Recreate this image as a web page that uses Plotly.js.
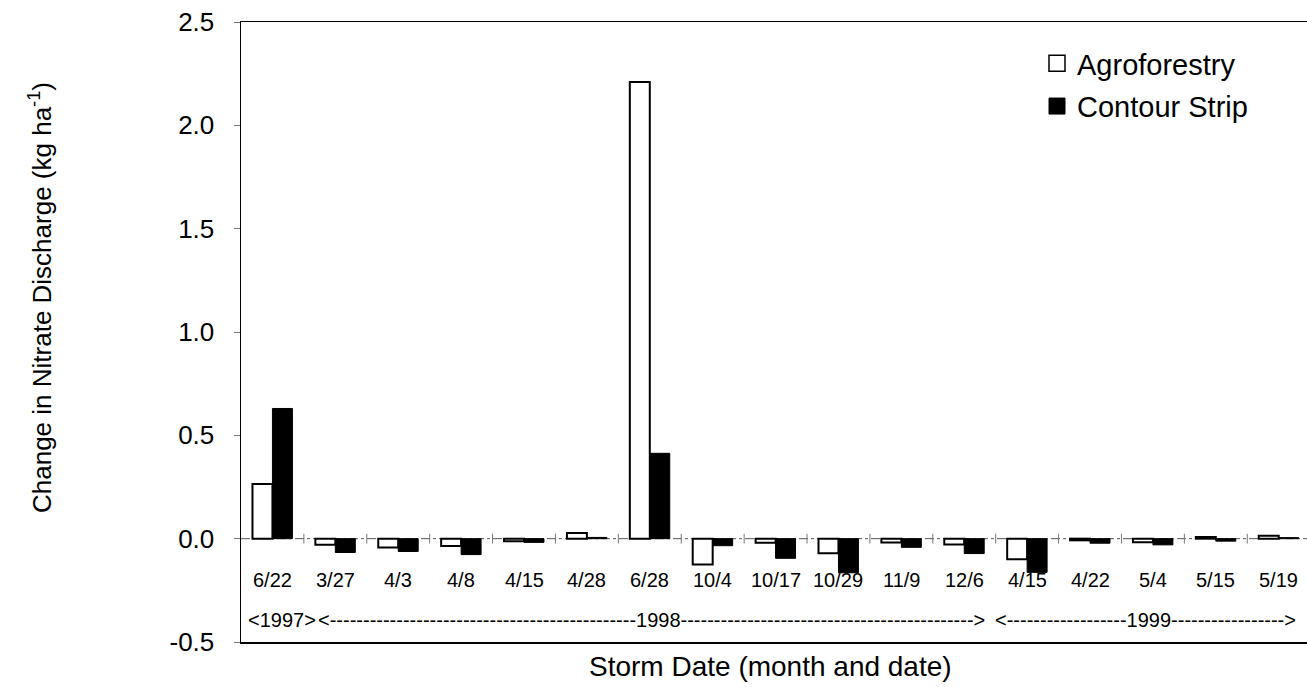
<!DOCTYPE html>
<html>
<head>
<meta charset="utf-8">
<script src="https://cdn.plot.ly/plotly-3.0.1.min.js"></script>
<style>html,body{margin:0;padding:0;background:#fff;}#chart{width:1307px;height:687px;}</style>
</head>
<body>
<div id="chart"></div>
<script>
// Storm dates (month/date)
const stormDates = ["6/22","3/27","4/3","4/8","4/15","4/28","6/28","10/4","10/17","10/29","11/9","12/6","4/15","4/22","5/4","5/15","5/19"];
// Change in nitrate discharge (kg/ha)
const agroforestry = [0.265,-0.03,-0.043,-0.035,-0.012,0.028,2.21,-0.125,-0.02,-0.07,-0.018,-0.028,-0.10,-0.008,-0.017,0.008,0.014];
const contourStrip = [0.63,-0.067,-0.062,-0.077,-0.018,0.006,0.413,-0.034,-0.095,-0.165,-0.042,-0.072,-0.163,-0.022,-0.03,-0.012,0.005];
const yTicks = [-0.5,0.0,0.5,1.0,1.5,2.0,2.5];
const yTickText = ["-0.5","0.0","0.5","1.0","1.5","2.0","2.5"];

const FONT = "Liberation Sans, Arial, Helvetica, sans-serif";
const xs = stormDates.map((d,i)=>i);

// layout constants (pixels)
const W = 1307, H = 687, ML = 241, MT = 22, MB = 45, MR = 0;
const PW = W - ML - MR, PH = H - MT - MB;
const px2x = p => (p - ML) / PW;
const py2y = p => (H - MB - p) / PH;

const dashes = n => "-".repeat(n);

const traces = [
  {type:"bar", x:xs, y:agroforestry, name:"Agroforestry", showlegend:false,
   marker:{color:"#fff", line:{color:"#000", width:2}}, hoverinfo:"skip"},
  {type:"bar", x:xs, y:contourStrip, name:"Contour Strip", showlegend:false,
   marker:{color:"#000", line:{color:"#000", width:1}}, hoverinfo:"skip"},
  {type:"scatter", mode:"markers", x:xs.slice(0,-1).map(i=>i+0.5), y:xs.slice(0,-1).map(()=>0),
   marker:{symbol:"line-ns", size:7, line:{color:"#777", width:1}}, showlegend:false, hoverinfo:"skip", cliponaxis:false},
  {type:"scatter", mode:"markers", x:[null], y:[null], name:"Agroforestry", legendgroup:"a",
   marker:{symbol:"square", size:16, color:"#fff", line:{color:"#000", width:1.5}}},
  {type:"scatter", mode:"markers", x:[null], y:[null], name:"Contour Strip", legendgroup:"b",
   marker:{symbol:"square", size:16, color:"#000", line:{color:"#000", width:1}}}
];

const annotations = [];
stormDates.forEach((d,i)=>{
  annotations.push({x:i, xref:"x", y:py2y(580), yref:"paper", text:d, showarrow:false,
    xanchor:"center", yanchor:"middle", font:{family:FONT, size:20, color:"#000"}});
});
const yearFont = {family:FONT, size:20, color:"#000"};
annotations.push({x:px2x(246), xref:"paper", y:py2y(620), yref:"paper", text:"&lt;1997&gt;", showarrow:false, xanchor:"left", yanchor:"middle", font:yearFont});
annotations.push({x:px2x(316), xref:"paper", y:py2y(620), yref:"paper", text:"&lt;"+dashes(46)+"1998"+dashes(44)+"&gt;", showarrow:false, xanchor:"left", yanchor:"middle", font:yearFont});
annotations.push({x:px2x(993), xref:"paper", y:py2y(620), yref:"paper", text:"&lt;"+dashes(18)+"1999"+dashes(17)+"&gt;", showarrow:false, xanchor:"left", yanchor:"middle", font:yearFont});
// axis titles
annotations.push({x:px2x(770), xref:"paper", y:py2y(666), yref:"paper", text:"Storm Date (month and date)", showarrow:false, xanchor:"center", yanchor:"middle", font:{family:FONT, size:28, color:"#000"}});
annotations.push({x:px2x(40), xref:"paper", y:py2y(298), yref:"paper", text:"Change in Nitrate Discharge (kg ha<sup>-1</sup>)", textangle:-90, showarrow:false, xanchor:"center", yanchor:"middle", font:{family:FONT, size:26, color:"#000"}});

const layout = {
  width:W, height:H,
  margin:{l:ML, r:MR, t:MT, b:MB, pad:0},
  paper_bgcolor:"#fff", plot_bgcolor:"#fff",
  font:{family:FONT, color:"#000"},
  barmode:"group", bargap:0.365, bargroupgap:0,
  showlegend:true,
  legend:{x:px2x(1037), xanchor:"left", y:py2y(38), yanchor:"top", bgcolor:"rgba(0,0,0,0)",
    font:{family:FONT, size:29, color:"#000"}, traceorder:"grouped", tracegroupgap:2},
  xaxis:{range:[-0.5,16.45], showticklabels:false, ticks:"", showgrid:false, zeroline:false,
    showline:true, linecolor:"#000", linewidth:1.5, mirror:true, fixedrange:true},
  yaxis:{range:[-0.5,2.5], tickvals:yTicks, ticktext:yTickText, ticks:"outside", ticklen:6, tickcolor:"#777",
    ticklabelstandoff:14, tickfont:{family:FONT, size:26, color:"#000"}, showgrid:false, zeroline:false,
    showline:true, linecolor:"#000", linewidth:1.5, mirror:true, fixedrange:true},
  shapes:[{type:"line", xref:"paper", x0:0, x1:1, yref:"y", y0:0, y1:0, layer:"below",
    line:{color:"#555", width:1, dash:"dashdot"}}],
  annotations:annotations
};

Plotly.newPlot("chart", traces, layout, {displayModeBar:false, staticPlot:true});
</script>
</body>
</html>
